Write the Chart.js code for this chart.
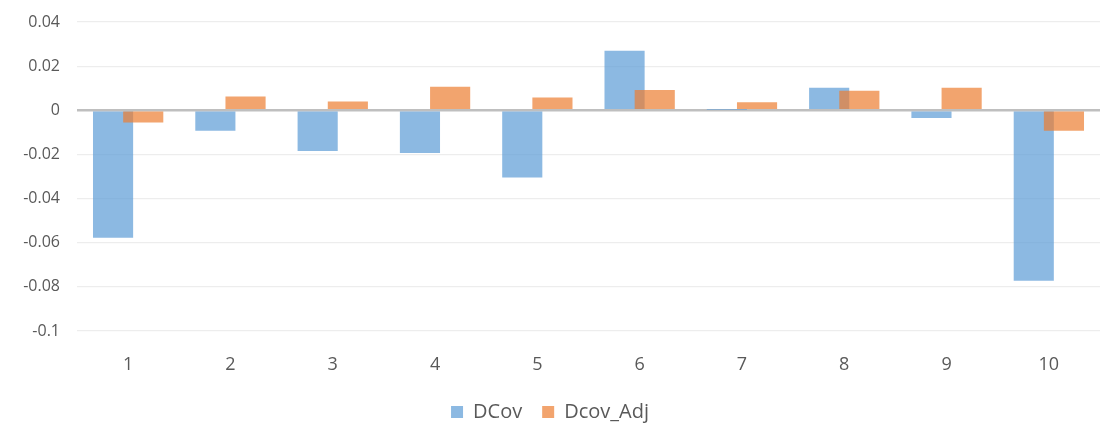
<!DOCTYPE html>
<html>
<head>
<meta charset="utf-8">
<script src="https://cdn.jsdelivr.net/npm/chart.js@4/dist/chart.umd.min.js"></script>
<style>
  html, body { margin: 0; padding: 0; background: #fff; }
  #wrap { width: 1116px; height: 432px; }
</style>
</head>
<body>
<div id="wrap"><canvas id="chart"></canvas></div>
<script>
const categories = ["1", "2", "3", "4", "5", "6", "7", "8", "9", "10"];
const dcov = [-0.0577, -0.0093, -0.0184, -0.0194, -0.0305, 0.0270, 0.0002, 0.0102, -0.0035, -0.0772];
const dcovAdj = [-0.0055, 0.0063, 0.0040, 0.0107, 0.0058, 0.0092, 0.0036, 0.0088, 0.0102, -0.0093];
const yTicks = [0.04, 0.02, 0, -0.02, -0.04, -0.06, -0.08, -0.1];

const textColor = "#595959";
const fontFamily = "'Open Sans', 'Noto Sans', sans-serif";

// Excel draws the second series over the first; Chart.js does the reverse,
// so skip Dcov_Adj in the normal pass and paint it after everything else.
const adjOnTop = {
    id: "adjOnTop",
    beforeDatasetDraw(chart, args) {
        if (args.index === 1) return false;
    },
    afterDatasetsDraw(chart) {
        const meta = chart.getDatasetMeta(1);
        if (!meta.hidden) meta.controller.draw();
    }
};

const ctx = document.getElementById("chart").getContext("2d");

new Chart(ctx, {
    type: "bar",
    data: {
        labels: categories,
        datasets: [
            {
                label: "DCov",
                data: dcov,
                backgroundColor: "rgba(91, 155, 213, 0.7)",
                categoryPercentage: 0.59,
                barPercentage: 1.33
            },
            {
                label: "Dcov_Adj",
                data: dcovAdj,
                backgroundColor: "rgba(237, 125, 49, 0.7)",
                categoryPercentage: 0.59,
                barPercentage: 1.33
            }
        ]
    },
    plugins: [adjOnTop],
    options: {
        responsive: true,
        maintainAspectRatio: false,
        animation: false,
        layout: { padding: { top: 22, right: 16, left: 0, bottom: 0 } },
        plugins: {
            legend: {
                position: "bottom",
                labels: {
                    color: textColor,
                    font: { family: fontFamily, size: 20 },
                    boxWidth: 12,
                    boxHeight: 12,
                    padding: 20
                }
            },
            tooltip: { enabled: false }
        },
        scales: {
            x: {
                grid: { display: false },
                border: { display: false },
                ticks: {
                    color: textColor,
                    font: { family: fontFamily, size: 18 },
                    padding: 15
                },
                afterFit: scale => {
                    scale.height = 51;
                    scale.paddingLeft = 0;
                    scale.paddingRight = 0;
                }
            },
            y: {
                min: -0.1,
                max: 0.04,
                afterBuildTicks: scale => {
                    scale.ticks = yTicks.map(v => ({ value: v }));
                },
                grid: {
                    color: c => (c.tick && c.tick.value === 0 ? "#BFBFBF" : "#EDEDED"),
                    lineWidth: c => (c.tick && c.tick.value === 0 ? 2.5 : 1.2),
                    drawTicks: false
                },
                border: { display: false },
                ticks: {
                    color: textColor,
                    font: { family: fontFamily, size: 16 },
                    padding: 17,
                    callback: v => String(Number(v.toFixed(2)))
                },
                afterFit: scale => {
                    scale.width = 77;
                    scale.paddingTop = 0;
                    scale.paddingBottom = 0;
                }
            }
        }
    }
});
</script>
</body>
</html>
